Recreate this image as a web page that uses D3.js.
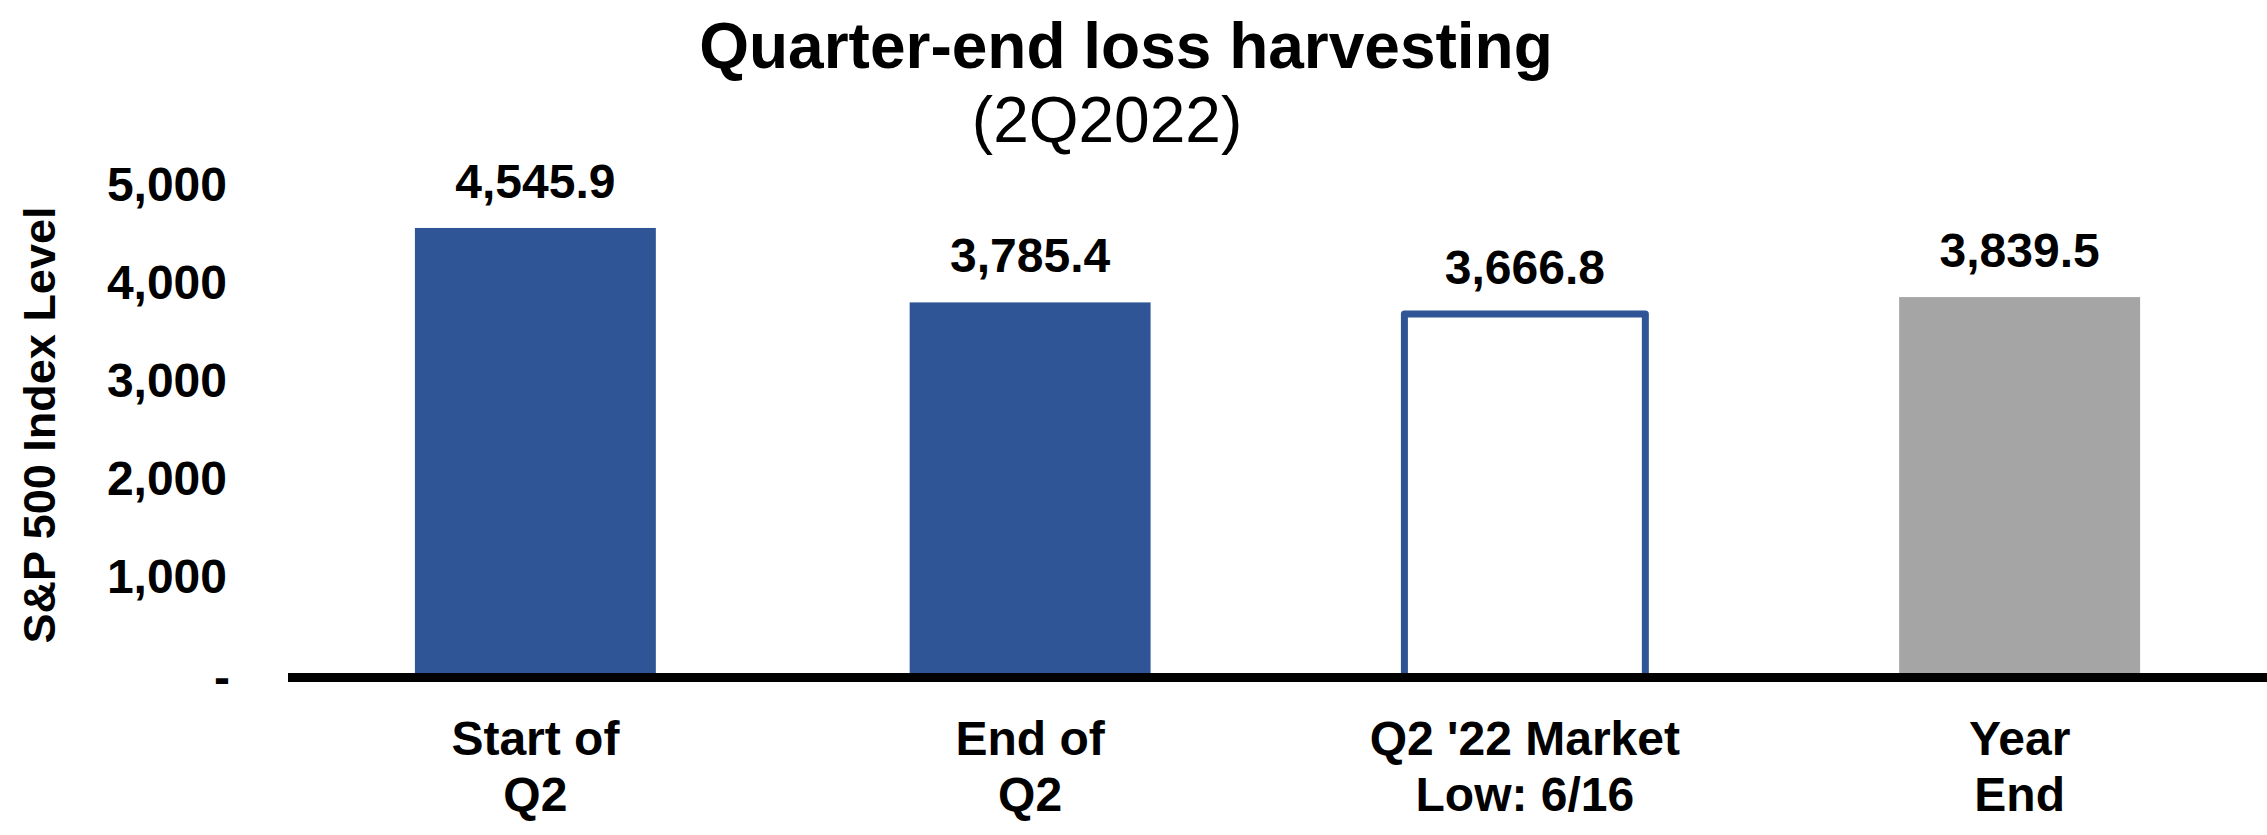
<!DOCTYPE html>
<html>
<head>
<meta charset="utf-8">
<script src="https://cdn.jsdelivr.net/npm/d3@7"></script>
<style>
  body { margin: 0; background: #fff; }
  text { font-family: "Liberation Sans", Arial, sans-serif; fill: #000; }
</style>
</head>
<body>
<div id="chart"></div>
<script>
// data
var categories = ["Start of\nQ2", "End of\nQ2", "Q2 '22 Market\nLow: 6/16", "Year\nEnd"];
var values = [4545.9, 3785.4, 3666.8, 3839.5];
var barKinds = ["solid", "solid", "outline", "grey"];
var yTicks = [0, 1000, 2000, 3000, 4000, 5000];

var width = 2267, height = 835;
var margin = { top: 183.5, right: 0, bottom: 162, left: 288 };

var blue = "#2F5597", grey = "#A5A5A5";

var svg = d3.select("#chart")
            .append("svg")
            .attr("width", width)
            .attr("height", height);

var x = d3.scaleBand()
          .domain(categories)
          .range([margin.left, width - margin.right])
          .paddingInner(0.513)
          .paddingOuter(0.2565);

var y = d3.scaleLinear()
          .domain([0, 5000])
          .range([height - margin.bottom, margin.top]);

// title
svg.append("text")
   .attr("x", 1126).attr("y", 68)
   .attr("text-anchor", "middle")
   .style("font-size", "64px").style("font-weight", "bold")
   .text("Quarter-end loss harvesting");

svg.append("text")
   .attr("x", 1107).attr("y", 142)
   .attr("text-anchor", "middle")
   .style("font-size", "64px")
   .text("(2Q2022)");

// y axis
var yAxis = svg.append("g")
   .attr("transform", "translate(" + margin.left + ",0)")
   .call(d3.axisLeft(y)
           .tickValues(yTicks)
           .tickSize(0)
           .tickPadding(61)
           .tickFormat(function(d) { return d === 0 ? "-" : d3.format(",")(d); }));
yAxis.select(".domain").remove();
yAxis.selectAll("text")
     .attr("dy", "0.36em")
     .style("font-family", "'Liberation Sans', Arial, sans-serif")
     .style("font-size", "48px").style("font-weight", "bold");
yAxis.selectAll(".tick")
     .filter(function(d) { return d === 0; })
     .select("text").attr("x", -58).attr("dy", "0.43em");

svg.append("text")
   .attr("transform", "translate(55,425) rotate(-90)")
   .attr("text-anchor", "middle")
   .style("font-size", "45px").style("font-weight", "bold")
   .text("S&P 500 Index Level");

// bars
var filled = values.map(function(d, i) { return { v: d, i: i }; })
                   .filter(function(d) { return barKinds[d.i] !== "outline"; });
var outlined = values.map(function(d, i) { return { v: d, i: i }; })
                     .filter(function(d) { return barKinds[d.i] === "outline"; });

svg.append("g").selectAll("rect")
   .data(filled)
   .enter().append("rect")
   .attr("x", function(d) { return x(categories[d.i]); })
   .attr("y", function(d) { return y(d.v); })
   .attr("width", x.bandwidth())
   .attr("height", function(d) { return y(0) - y(d.v); })
   .style("fill", function(d) { return barKinds[d.i] === "grey" ? grey : blue; });

// open bar: left, top and right edges only
svg.append("g").selectAll("path")
   .data(outlined)
   .enter().append("path")
   .attr("d", function(d) {
     var x0 = x(categories[d.i]), x1 = x0 + x.bandwidth();
     return "M" + x0 + "," + y(0) + "V" + y(d.v) + "H" + x1 + "V" + y(0);
   })
   .style("fill", "#fff")
   .style("stroke", blue)
   .style("stroke-width", 7)
   .style("stroke-linejoin", "round");

svg.append("g").selectAll("text")
   .data(values)
   .enter().append("text")
   .attr("x", function(d, i) { return x(categories[i]) + x.bandwidth() / 2; })
   .attr("y", function(d) { return y(d) - 30; })
   .attr("text-anchor", "middle")
   .style("font-size", "48px").style("font-weight", "bold")
   .text(function(d) { return d3.format(",.1f")(d); });

// base line
svg.append("line")
   .attr("x1", margin.left).attr("x2", width)
   .attr("y1", y(0) + 4.5).attr("y2", y(0) + 4.5)
   .style("stroke", "#000").style("stroke-width", 9);

// x axis labels
var xAxis = svg.append("g")
   .attr("transform", "translate(0," + y(0) + ")")
   .call(d3.axisBottom(x).tickSize(0).tickFormat(""));
xAxis.select(".domain").remove();
xAxis.selectAll(".tick text").remove();
xAxis.selectAll(".tick").append("text")
     .attr("text-anchor", "middle")
     .style("font-size", "48px").style("font-weight", "bold")
     .selectAll("tspan")
     .data(function(d) { return d.split("\n"); })
     .enter().append("tspan")
     .attr("x", 0)
     .attr("y", function(d, i) { return 82 + i * 56; })
     .text(function(d) { return d; });
</script>
</body>
</html>
